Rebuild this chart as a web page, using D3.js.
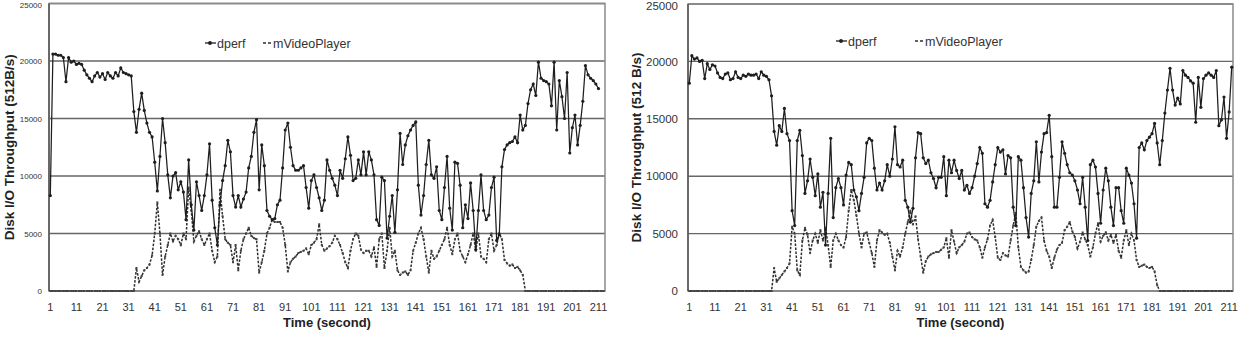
<!DOCTYPE html>
<html>
<head>
<meta charset="utf-8">
<script src="https://cdn.jsdelivr.net/npm/d3@7"></script>
<style>
  body { margin: 0; background: #fff; }
  svg { display: block; }
  text { font-family: "Liberation Sans", Arial, sans-serif; fill: #222; }
</style>
</head>
<body>
<script>
// values (512 B/s units)
var leftDperf = [8300,20600,20600,20500,20500,20300,18200,20300,19900,20000,
  19700,19800,19700,19200,18800,18500,18200,18700,19000,18600,
  18900,18400,19000,18700,18500,19000,18700,19400,19000,18900,
  18800,18700,15600,13800,15800,17200,15700,14600,13800,13400,
  11200,8700,11700,15000,12900,10100,8100,10000,10300,8800,
  9500,8600,6200,11400,7500,5300,9500,8300,7000,8300,
  10100,12800,7900,5500,4000,7500,9600,10900,13100,12100,
  8300,7300,8300,7300,8000,8600,10700,11700,13800,14900,
  8800,12700,10900,7000,6500,6200,6300,7500,7900,10700,
  14000,14600,12500,10900,10500,10500,10700,10900,9000,7200,
  9600,10100,9000,8100,7000,7900,11400,10500,9800,9200,
  8300,10500,9800,11500,13400,11800,9600,9800,11400,10100,
  12100,10100,12100,11400,10100,6200,5700,9900,9600,4600,
  6500,8300,5100,8800,13700,11000,12700,13500,14000,14400,
  14700,9200,6600,8300,11000,13100,10100,9800,10800,7000,
  6200,9000,11700,7200,5300,11200,11100,9200,5500,7500,
  6300,9400,7000,3600,7000,10100,7000,6200,6600,9000,
  9900,4400,4900,10800,12300,12700,12900,13000,13400,12900,
  15300,14000,14400,16300,17500,18000,17000,19900,18500,18300,
  18200,18000,16100,19900,14000,18300,16900,15000,19000,12000,
  14200,15300,12700,14400,16500,19600,18800,18500,18300,18000,
  17600];

var leftVideo = [0,0,0,0,0,0,0,0,0,0,
  0,0,0,0,0,0,0,0,0,0,
  0,0,0,0,0,0,0,0,0,0,
  0,0,0,2000,800,1300,1800,2000,2300,3100,
  5000,7700,5000,1400,3000,4000,5000,4300,4800,4500,
  4000,5000,4500,9000,7000,4300,4800,5200,4500,4000,
  4500,5000,3500,2500,3000,8800,6500,4500,4200,4000,
  2500,4000,1800,3500,4500,5000,5500,4800,4600,4500,
  1600,2500,3500,5000,5500,6200,6000,6000,6000,5500,
  4000,1700,2500,2800,3000,3300,3400,3500,3700,3200,
  4000,4200,4500,5800,4000,3500,3700,3900,4200,4800,
  4500,4000,3300,2500,2000,3500,4500,5000,4800,3600,
  3300,3500,3500,3000,3800,2100,4500,5000,2000,3500,
  5500,3000,3500,1800,1400,1600,1700,1400,1800,3500,
  4200,5000,5500,4500,3000,1600,3500,2800,3000,3500,
  4000,4500,5500,4000,3200,4500,5000,3500,3000,2500,
  3200,4000,5000,3500,5000,3000,2800,2500,4500,5000,
  3500,4000,5000,4500,2700,2400,2200,2300,2000,2100,
  1800,1400,0,0,0,0,0,0,0,0,
  0,0,0,0,0,0,0,0,0,0,
  0,0,0,0,0,0,0,0,0,0,
  0,0,0];

var rightDperf = [18100,20500,20200,20300,20000,20100,18500,19800,19300,19700,
  19600,19000,18600,18500,18900,19000,18400,18500,19100,18600,
  18500,18800,18700,18900,18800,18800,18900,18500,19100,18800,
  18700,18400,17000,13900,12700,14400,13900,15900,13700,13100,
  7000,5700,13100,14000,11800,8500,9600,11500,9900,8300,
  10200,7300,8600,4000,8500,13300,6400,9000,9800,9000,
  7500,10100,11200,11000,8800,8200,7000,8500,9900,12900,
  13300,13100,10700,8800,9400,8800,9600,11000,10000,11500,
  14300,11000,10800,11400,7900,7300,6000,7200,11600,13800,
  13700,11600,11100,11400,10300,9800,9000,9900,9900,11700,
  8300,11400,10300,11400,10500,9800,10500,8800,9200,8500,
  9000,10000,11100,12500,12000,7600,7300,7900,9500,11000,
  12500,12100,12300,10200,11800,11600,7300,5700,11700,11400,
  9000,6400,4700,8500,9600,13000,9500,12100,13700,13800,
  15300,11700,7300,7300,9900,13000,12000,11000,10300,10100,
  9600,8800,7600,9900,7300,4400,11000,11400,10800,8500,
  5900,8800,10700,9600,7300,5700,9000,9000,7000,5900,
  10700,10100,9400,7600,4600,12500,12900,12300,13100,13400,
  13700,14600,12900,11000,13100,15500,17500,19400,17500,16200,
  16800,16300,19200,18800,18600,18300,18100,14700,18600,16000,
  18500,18800,19000,18800,18600,19200,14400,14900,16900,13300,
  15600,19500];

var rightVideo = [0,0,0,0,0,0,0,0,0,0,
  0,0,0,0,0,0,0,0,0,0,
  0,0,0,0,0,0,0,0,0,0,
  0,0,0,2000,800,1100,1400,1700,2000,2400,
  5600,5000,1800,1400,4400,5500,4900,3300,4400,5000,
  4200,5300,4400,5500,4000,2100,4400,5000,4400,4000,
  3800,4700,7000,8800,7900,6600,5000,3800,5000,5100,
  4200,3300,2100,4400,5300,5100,4900,5000,4200,3000,
  1800,3500,3000,3800,5000,6000,7000,5800,6500,4500,
  3000,1600,2600,3000,3200,3300,3400,3400,3600,3800,
  4600,2900,5300,4300,3300,3800,4000,4300,5000,5100,
  4700,4500,4400,3800,2900,3800,4500,5700,6200,4700,
  2900,2700,3300,3100,3000,4400,5700,6800,3800,2100,
  1800,1600,1700,2700,4000,5600,6100,6400,4400,3500,
  3000,2000,2900,3600,4000,4200,5300,5600,6000,5200,
  4700,3700,4300,5100,4500,4000,3000,3800,5000,5900,
  4300,4800,5100,4400,4900,4200,4900,3500,2900,4400,
  5300,4000,5000,4400,2700,2100,2200,2300,2100,2000,
  2100,1700,500,0,0,0,0,0,0,0,
  0,0,0,0,0,0,0,0,0,0,
  0,0,0,0,0,0,0,0,0,0,
  0,0];

var yTicks = [0, 5000, 10000, 15000, 20000, 25000];
var xTickLabels = [1, 11, 21, 31, 41, 51, 61, 71, 81, 91, 101, 111, 121, 131, 141, 151, 161, 171, 181, 191, 201, 211];
var seriesNames = ["dperf", "mVideoPlayer"];

var svg = d3.select("body").append("svg")
    .attr("width", 1242)
    .attr("height", 339);

function drawChart(opt) {
    var g = svg.append("g");

    var x = d3.scaleBand()
        .domain(d3.range(1, opt.n + 1))
        .range([opt.left, opt.right]);
    var cx = function (i) { return x(i) + x.bandwidth() / 2; };

    var y = d3.scaleLinear()
        .domain([0, 25000])
        .range([opt.bottom, opt.top]);

    // gridlines
    g.selectAll("line.grid")
        .data(yTicks)
        .enter().append("line")
        .attr("class", "grid")
        .attr("x1", opt.left).attr("x2", opt.right)
        .attr("y1", function (d) { return y(d); })
        .attr("y2", function (d) { return y(d); })
        .style("stroke", "#666")
        .style("stroke-width", 1.4);

    // plot frame
    g.append("rect")
        .attr("x", opt.left).attr("y", opt.top)
        .attr("width", opt.right - opt.left)
        .attr("height", opt.bottom - opt.top)
        .style("fill", "none")
        .style("stroke", "#8a8a8a")
        .style("stroke-width", 1.5);

    g.append("line")
        .attr("x1", opt.left).attr("x2", opt.left)
        .attr("y1", opt.top).attr("y2", opt.bottom)
        .style("stroke", "#555")
        .style("stroke-width", 1.5);

    var yAxis = g.append("g")
        .attr("transform", "translate(" + opt.left + ",0)")
        .call(d3.axisLeft(y).tickValues(yTicks).tickSize(0).tickPadding(opt.yPad).tickFormat(d3.format("d")));
    yAxis.select(".domain").remove();
    yAxis.selectAll("text")
        .style("font-size", opt.yFont + "px")
        .style("font-family", "'Liberation Sans', Arial, sans-serif")
        .style("fill", "#333")
        .attr("dy", function (d) { return d === 25000 ? "0.45em" : "0.32em"; });

    var xAxis = g.append("g")
        .attr("transform", "translate(0," + opt.bottom + ")")
        .call(d3.axisBottom(x).tickValues(xTickLabels).tickSize(0).tickPadding(12));
    xAxis.select(".domain").remove();
    xAxis.selectAll("text")
        .style("font-size", "11px")
        .style("font-family", "'Liberation Sans', Arial, sans-serif")
        .style("fill", "#333");

    // titles
    g.append("text")
        .attr("transform", "translate(" + opt.yTitleX + "," + ((opt.top + opt.bottom) / 2) + ") rotate(-90)")
        .attr("text-anchor", "middle")
        .style("font-size", "13.5px")
        .style("font-weight", "bold")
        .text(opt.yTitle);

    g.append("text")
        .attr("x", (opt.left + opt.right) / 2)
        .attr("y", 327)
        .attr("text-anchor", "middle")
        .style("font-size", "13px")
        .style("font-weight", "bold")
        .text("Time (second)");

    var line = d3.line()
        .x(function (d, i) { return cx(i + 1); })
        .y(function (d) { return y(d); });

    // mVideoPlayer (dashed)
    g.append("path")
        .datum(opt.video)
        .attr("d", line)
        .style("fill", "none")
        .style("stroke", "#2e2e2e")
        .style("stroke-width", 1.5)
        .style("stroke-dasharray", "2.5,1.5");
    g.selectAll("rect.vm")
        .data(opt.video)
        .enter().append("rect")
        .attr("class", "vm")
        .attr("x", function (d, i) { return cx(i + 1) - 1; })
        .attr("y", function (d) { return y(d) - 1; })
        .attr("width", 2).attr("height", 2)
        .style("fill", "#444");

    // dperf (solid with markers)
    g.append("path")
        .datum(opt.dperf)
        .attr("d", line)
        .style("fill", "none")
        .style("stroke", "#1e1e1e")
        .style("stroke-width", 1.25);
    g.selectAll("circle.dm")
        .data(opt.dperf)
        .enter().append("circle")
        .attr("class", "dm")
        .attr("cx", function (d, i) { return cx(i + 1); })
        .attr("cy", function (d) { return y(d); })
        .attr("r", 1.6)
        .style("fill", "#1e1e1e");

    // legend
    var lg = g.append("g").attr("transform", "translate(" + opt.legX + "," + opt.legY + ")");
    lg.append("line").attr("x1", 0).attr("x2", 11).attr("y1", 0).attr("y2", 0)
        .style("stroke", "#1e1e1e").style("stroke-width", 1.3);
    lg.append("circle").attr("cx", 5).attr("cy", 0).attr("r", 1.9).style("fill", "#1e1e1e");
    lg.append("text").attr("x", 12).attr("y", 4.5)
        .style("font-size", "12.5px").style("fill", "#333").text(seriesNames[0]);
    lg.append("line").attr("x1", opt.legGap).attr("x2", opt.legGap + 10).attr("y1", 0).attr("y2", 0)
        .style("stroke", "#2e2e2e").style("stroke-width", 1.4).style("stroke-dasharray", "3,2");
    lg.append("text").attr("x", opt.legGap + 10).attr("y", 4.5)
        .style("font-size", "12.5px").style("fill", "#333").text(seriesNames[1]);
}

drawChart({
    n: 213, left: 49, right: 605, top: 3.5, bottom: 291,
    dperf: leftDperf, video: leftVideo,
    yPad: 7, yFont: 8, yTitleX: 14,
    yTitle: "Disk I/O Throughput (512B/s)",
    legX: 205, legY: 43, legGap: 58
});

drawChart({
    n: 212, left: 688, right: 1233, top: 4, bottom: 291,
    dperf: rightDperf, video: rightVideo,
    yPad: 10, yFont: 11.5, yTitleX: 641,
    yTitle: "Disk I/O Throughput (512 B/s)",
    legX: 836, legY: 41, legGap: 79
});
</script>
</body>
</html>
